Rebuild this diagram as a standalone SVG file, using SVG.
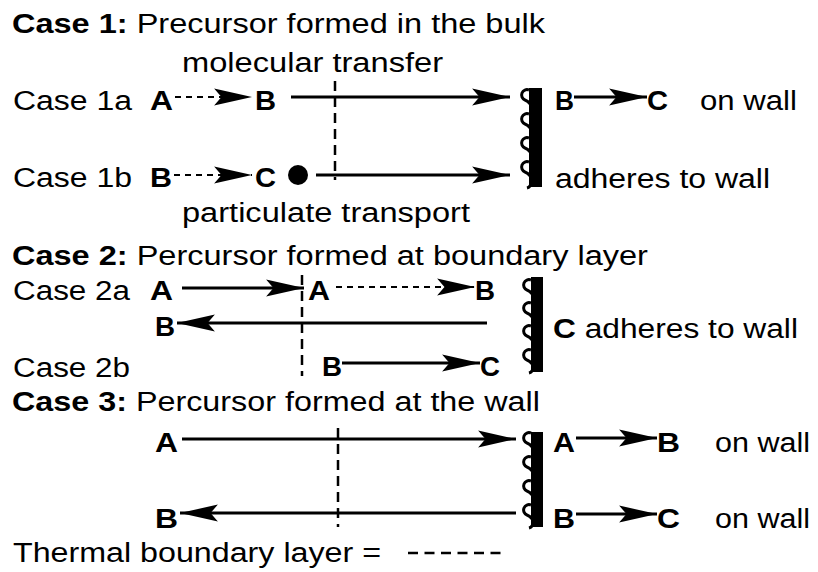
<svg xmlns="http://www.w3.org/2000/svg" width="818" height="572" viewBox="0 0 818 572">
<defs>
<style>
text{font-family:"Liberation Sans",Arial,sans-serif;font-size:28px;fill:#000}
.b{font-weight:bold}
.s{stroke:#000;stroke-width:3;fill:none}
.d{stroke:#000;stroke-width:2;fill:none;stroke-dasharray:6,5}
.v{stroke:#000;stroke-width:2.5;fill:none;stroke-dasharray:10,6}
.coil{stroke:#000;stroke-width:3;fill:none}
.wall{fill:#000}
</style>
<marker id="ah" markerUnits="userSpaceOnUse" markerWidth="40" markerHeight="20" viewBox="-37 -9 38 18" refX="0" refY="0" orient="auto">
<path d="M0,0 L-36,-8 L-29,0 L-36,8 Z" fill="#000"/>
</marker>
<path id="loop" class="coil" d="M4,-5 A5,5 0 1 0 0,5 Q3,6 5,9"/>
</defs>
<rect width="818" height="572" fill="#fff"/>

<g id="titles" transform="scale(1.15,1)">
<text x="10.43" y="33" textLength="463.5" lengthAdjust="spacingAndGlyphs"><tspan class="b">Case 1:</tspan> Precursor formed in the bulk</text>
<text x="158.26" y="72" textLength="227" lengthAdjust="spacingAndGlyphs">molecular transfer</text>
<text x="158.26" y="222" textLength="250.4" lengthAdjust="spacingAndGlyphs">particulate transport</text>
<text x="10.43" y="265" textLength="553" lengthAdjust="spacingAndGlyphs"><tspan class="b">Case 2:</tspan> Percursor formed at boundary layer</text>
<text x="10.43" y="411" textLength="459.1" lengthAdjust="spacingAndGlyphs"><tspan class="b">Case 3:</tspan> Percursor formed at the wall</text>
<text x="11.3" y="562" textLength="320" lengthAdjust="spacingAndGlyphs">Thermal boundary layer =</text>
</g>

<g id="case1a" transform="scale(1.15,1)">
<text x="11.3" y="110" textLength="103.5" lengthAdjust="spacingAndGlyphs">Case 1a</text>
<text class="b" x="130.43" y="110" textLength="20" lengthAdjust="spacingAndGlyphs">A</text>
<text class="b" x="221.74" y="110" textLength="18.3" lengthAdjust="spacingAndGlyphs">B</text>
</g>
<g id="case1b">
<g transform="scale(1.15,1)">
<text x="11.3" y="187" textLength="103.5" lengthAdjust="spacingAndGlyphs">Case 1b</text>
<text class="b" x="130.43" y="187" textLength="19.1" lengthAdjust="spacingAndGlyphs">B</text>
<text class="b" x="221.74" y="187" textLength="18.3" lengthAdjust="spacingAndGlyphs">C</text>
</g>
<circle cx="298" cy="175" r="10" fill="#000"/>
</g>
<g id="wall1">
<use href="#loop" x="525" y="95"/>
<use href="#loop" x="525" y="119"/>
<use href="#loop" x="525" y="143"/>
<use href="#loop" x="525" y="167"/>
<path class="coil" d="M531,182 Q531,187 527,188"/>
<rect class="wall" x="529" y="88" width="13" height="99"/>
<g transform="scale(1.15,1)">
<text class="b" x="482.61" y="110" textLength="16.5" lengthAdjust="spacingAndGlyphs">B</text>
<text class="b" x="562.61" y="110" textLength="18.3" lengthAdjust="spacingAndGlyphs">C</text>
<text x="608.7" y="110" textLength="84.3" lengthAdjust="spacingAndGlyphs">on wall</text>
<text x="482.61" y="188" textLength="187" lengthAdjust="spacingAndGlyphs">adheres to wall</text>
</g>
</g>

<g id="case2a" transform="scale(1.15,1)">
<text x="11.3" y="300" textLength="101.7" lengthAdjust="spacingAndGlyphs">Case 2a</text>
<text class="b" x="130.43" y="300" textLength="20" lengthAdjust="spacingAndGlyphs">A</text>
<text class="b" x="267.83" y="300" textLength="19.1" lengthAdjust="spacingAndGlyphs">A</text>
<text class="b" x="413.04" y="300" textLength="17.4" lengthAdjust="spacingAndGlyphs">B</text>
<text class="b" x="134.78" y="336" textLength="17.4" lengthAdjust="spacingAndGlyphs">B</text>
</g>
<g id="case2b" transform="scale(1.15,1)">
<text x="11.3" y="377" textLength="101.7" lengthAdjust="spacingAndGlyphs">Case 2b</text>
<text class="b" x="280" y="376" textLength="17.4" lengthAdjust="spacingAndGlyphs">B</text>
<text class="b" x="417.39" y="376" textLength="17.4" lengthAdjust="spacingAndGlyphs">C</text>
</g>
<g id="wall2">
<use href="#loop" x="527" y="285"/>
<use href="#loop" x="527" y="308"/>
<use href="#loop" x="527" y="331"/>
<use href="#loop" x="527" y="355"/>
<path class="coil" d="M533,367 Q533,372 529,373"/>
<rect class="wall" x="531" y="277" width="12" height="95"/>
<text transform="scale(1.15,1)" x="480.87" y="338" textLength="213" lengthAdjust="spacingAndGlyphs"><tspan class="b">C</tspan> adheres to wall</text>
</g>

<g id="case3" transform="scale(1.15,1)">
<text class="b" x="134.78" y="452" textLength="20" lengthAdjust="spacingAndGlyphs">A</text>
<text class="b" x="134.78" y="528" textLength="20" lengthAdjust="spacingAndGlyphs">B</text>
</g>
<g id="wall3">
<use href="#loop" x="527" y="438"/>
<use href="#loop" x="527" y="462"/>
<use href="#loop" x="527" y="486"/>
<use href="#loop" x="527" y="510"/>
<path class="coil" d="M533,522 Q533,527 529,528"/>
<rect class="wall" x="531" y="432" width="12" height="95"/>
<g transform="scale(1.15,1)">
<text class="b" x="480.87" y="452" textLength="19.1" lengthAdjust="spacingAndGlyphs">A</text>
<text class="b" x="571.3" y="452" textLength="20" lengthAdjust="spacingAndGlyphs">B</text>
<text x="621.74" y="452" textLength="82.6" lengthAdjust="spacingAndGlyphs">on wall</text>
<text class="b" x="480.87" y="528" textLength="19.1" lengthAdjust="spacingAndGlyphs">B</text>
<text class="b" x="571.3" y="528" textLength="20" lengthAdjust="spacingAndGlyphs">C</text>
<text x="621.74" y="528" textLength="82.6" lengthAdjust="spacingAndGlyphs">on wall</text>
</g>
</g>

<g id="connectors">
<line class="d" x1="175" y1="97" x2="252" y2="97" marker-end="url(#ah)"/>
<line class="s" x1="291" y1="97" x2="510" y2="97" marker-end="url(#ah)"/>
<line class="d" x1="174" y1="175" x2="252" y2="175" marker-end="url(#ah)"/>
<line class="s" x1="316" y1="175" x2="510" y2="175" marker-end="url(#ah)"/>
<line class="s" x1="574" y1="97" x2="647" y2="97" marker-end="url(#ah)"/>
<line class="v" x1="335" y1="81" x2="335" y2="180"/>

<line class="s" x1="182" y1="288" x2="304" y2="288" marker-end="url(#ah)"/>
<line class="d" x1="336" y1="287" x2="475" y2="287" marker-end="url(#ah)"/>
<line class="s" x1="487" y1="323" x2="177" y2="323" marker-end="url(#ah)"/>
<line class="s" x1="342" y1="363" x2="480" y2="363" marker-end="url(#ah)"/>
<line class="v" x1="302" y1="275" x2="302" y2="376"/>

<line class="s" x1="182" y1="439" x2="516" y2="439" marker-end="url(#ah)"/>
<line class="s" x1="516" y1="513" x2="180" y2="513" marker-end="url(#ah)"/>
<line class="s" x1="576" y1="438" x2="657" y2="438" marker-end="url(#ah)"/>
<line class="s" x1="576" y1="514" x2="657" y2="514" marker-end="url(#ah)"/>
<line class="v" x1="338" y1="428" x2="338" y2="527"/>

<line class="s" style="stroke-dasharray:10,6.5;stroke-width:2.5" x1="408" y1="553" x2="504" y2="553"/>
</g>
</svg>
